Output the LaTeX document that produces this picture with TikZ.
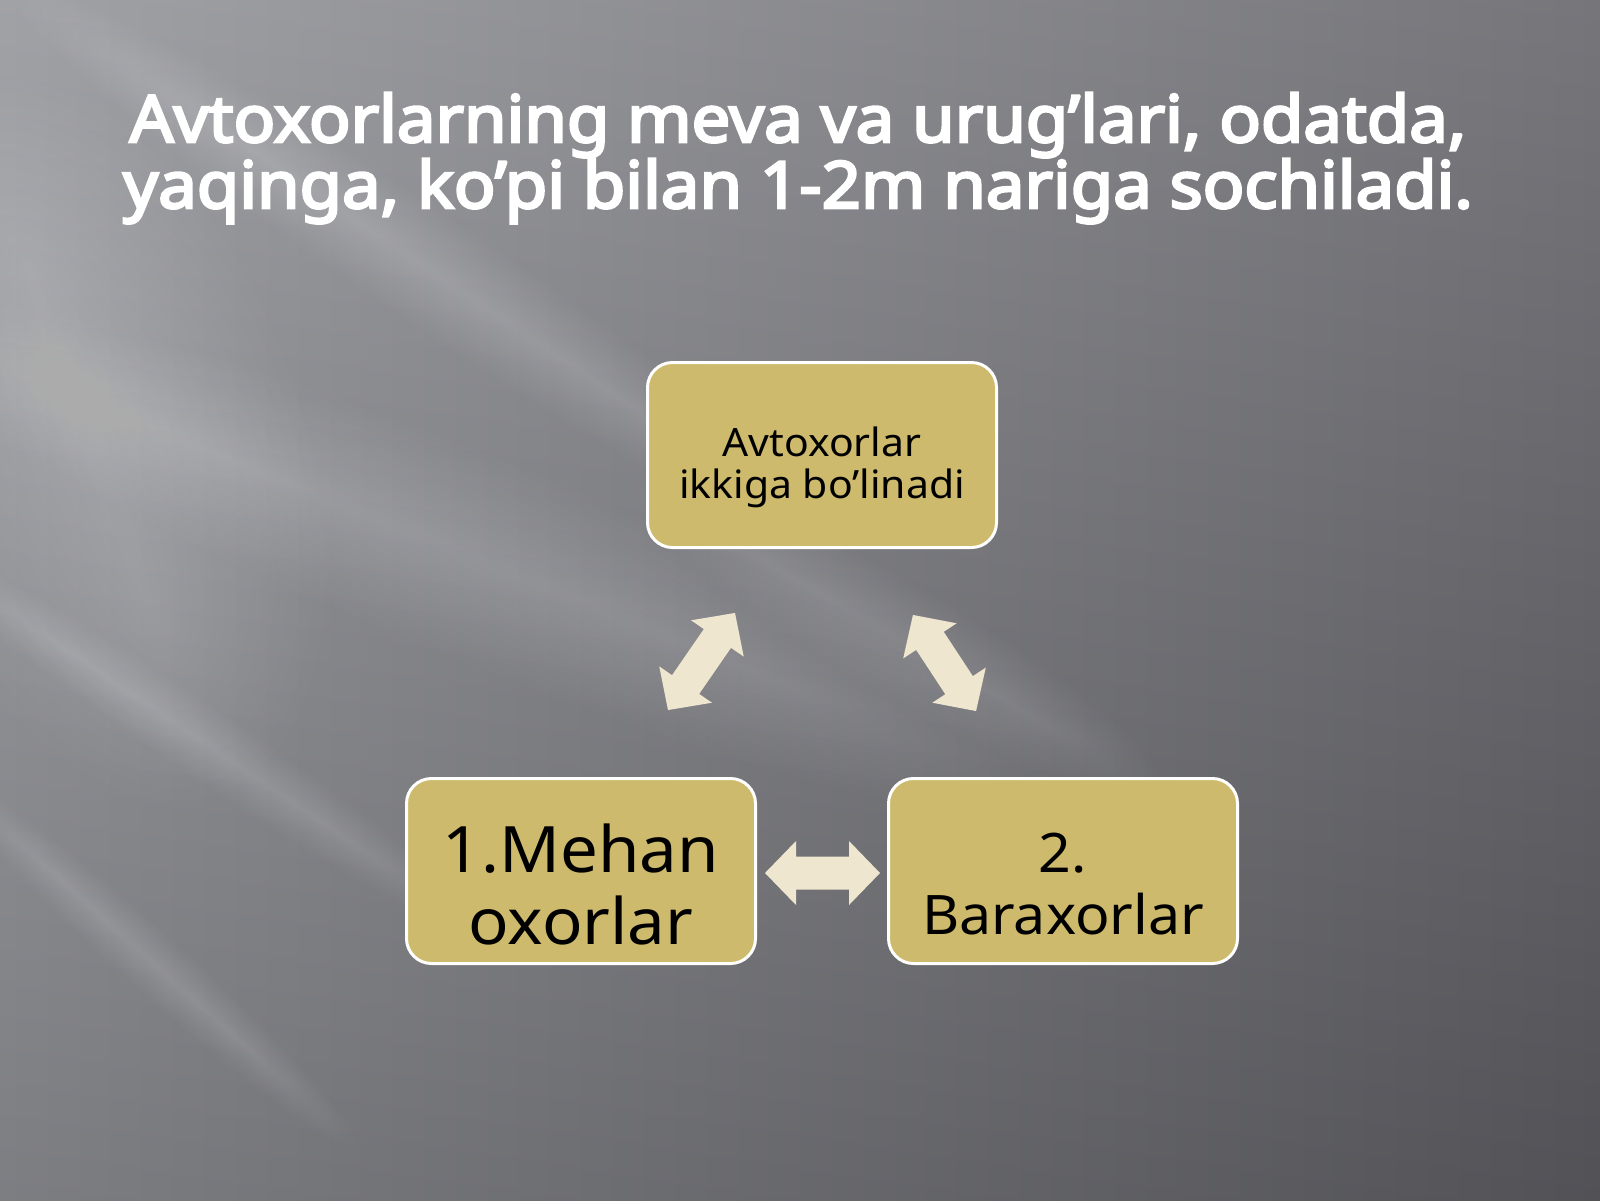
\documentclass[tikz,border=0pt]{standalone}
\usepackage{fontspec}
\setmainfont{Noto Sans}
\newfontfamily\titlefont{Noto Sans}[FakeBold=4, FakeStretch=1.06]
\newfontfamily\boxfont{Noto Sans}[FakeStretch=1.05]
\definecolor{boxfill}{HTML}{CDBA6C}
\definecolor{arrowfill}{HTML}{EEE6CF}
\definecolor{bgleft}{HTML}{929398}
\definecolor{bgright}{HTML}{5F5F65}
\tikzset{
  gbox/.style={draw=white, line width=3pt, fill=boxfill, rounded corners=25pt,
    minimum width=349pt, minimum height=185pt, inner sep=0pt},
  boxtext/.style={align=center, text=black, inner sep=0pt, anchor=base},
  blockarrow/.style={fill=arrowfill, draw=none},
}
\newcommand{\dblarrow}[4]{%
  \begin{scope}[shift={#1}, rotate=#2]
    \coordinate (#4) at (0,0);
    \fill[blockarrow] (-#3/2,0) -- (-#3/2+31,32) -- (-#3/2+31,16.5) -- (#3/2-31,16.5)
      -- (#3/2-31,32) -- (#3/2,0) -- (#3/2-31,-32) -- (#3/2-31,-16.5)
      -- (-#3/2+31,-16.5) -- (-#3/2+31,-32) -- cycle;
  \end{scope}}
\newcommand{\glow}[5]{%
  % #1 centre, #2 angle, #3 length, #4 width, #5 opacity per layer (8-layer basis)
  \begin{scope}[shift={#1}, rotate=#2]
    \foreach \k in {1,...,16}{
      \fill[white, opacity=#5/2] (0,0) ellipse [x radius={#3/2*(0.45+\k/29)}, y radius={#4/2*\k/16}];
    }
  \end{scope}}
\begin{document}
\begin{tikzpicture}[x=1pt, y=-1pt]
\useasboundingbox (0,0) rectangle (1600,1200);
% background
\shade[left color=bgleft, right color=bgright] (0,0) rectangle (1600,1200);
\shade[top color=black!0, bottom color=black, opacity=0.14] (0,0) rectangle (1600,1200);
\begin{scope}
\clip (0,0) rectangle (1600,1200);
\glow{(90,440)}{-70}{750}{420}{0.026}
\glow{(480,560)}{-22}{1300}{200}{0.025}
\glow{(430,270)}{-34}{1000}{110}{0.024}
\glow{(900,640)}{-30}{600}{110}{0.02}
\glow{(200,740)}{-34}{700}{70}{0.022}
\glow{(150,960)}{-42}{550}{60}{0.02}
\glow{(200,120)}{-20}{700}{150}{0.016}
\end{scope}
% title
\node[text=white, font=\titlefont\fontsize{65}{62}\selectfont, align=center, anchor=base, inner sep=0pt]
  (title) at (798,208) {Avtoxorlarning meva va urug’lari, odatda,\\ yaqinga, ko’pi bilan 1-2m nariga sochiladi.};
% boxes
\node[gbox] (top) at (822,455) {};
\node[gbox] (left) at (581,871) {};
\node[gbox] (right) at (1063,871) {};
\node[boxtext, font=\boxfont\fontsize{39}{42}\selectfont] (toptext) at (822,498) {Avtoxorlar\\ikkiga bo’linadi};
\node[boxtext, font=\boxfont\fontsize{64}{72}\selectfont] (lefttext) at (581,944) {1.Mehan\\oxorlar};
\node[boxtext, font=\boxfont\fontsize{54.5}{62}\selectfont] (righttext) at (1063,934) {2.\\Baraxorlar};
% arrows
\dblarrow{(701.5,661.5)}{55.4}{118}{aleft}
\dblarrow{(944.5,663)}{-56.7}{115}{aright}
\dblarrow{(822.5,873)}{0}{115}{abottom}
\end{tikzpicture}
\end{document}
